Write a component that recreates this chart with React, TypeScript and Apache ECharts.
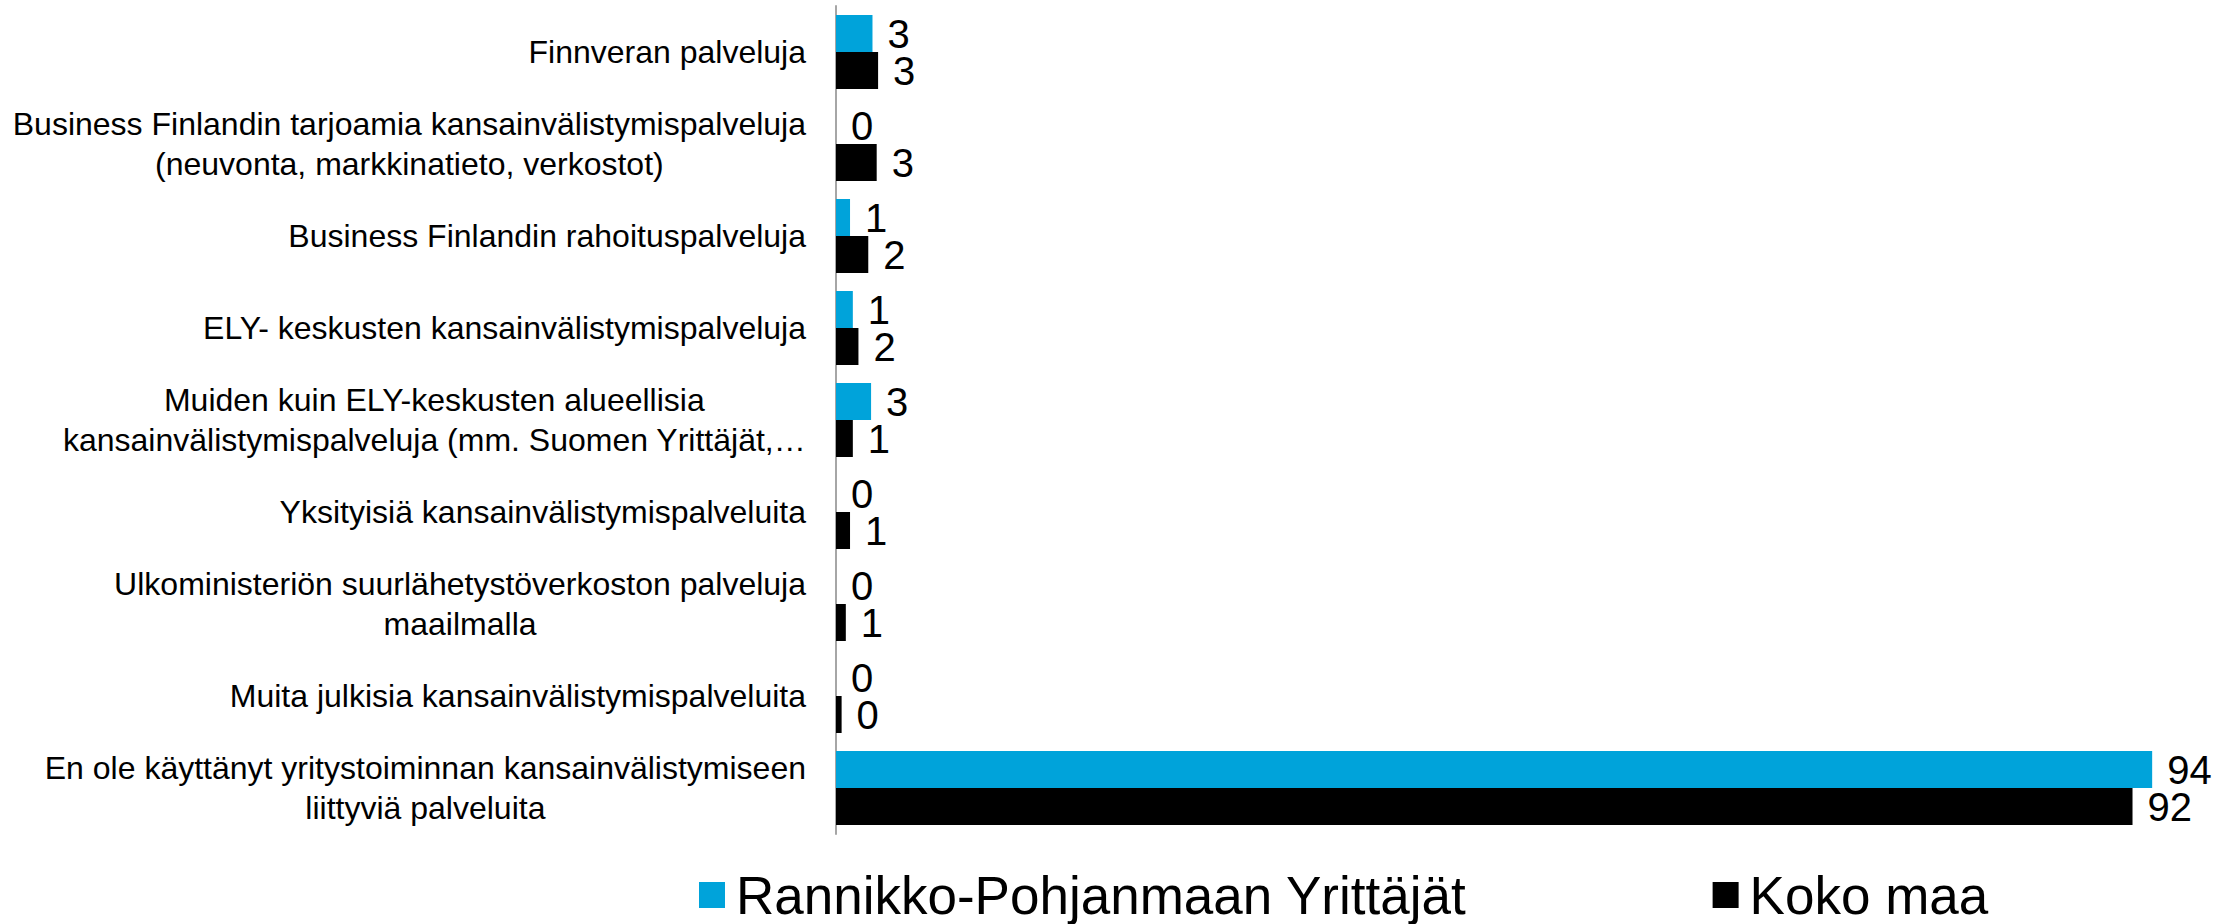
import React, { useEffect, useRef } from "react";
import * as echarts from "echarts";

const categories: string[] = [
  "Finnveran palveluja",
  "Business Finlandin tarjoamia kansainvälistymispalveluja\n(neuvonta, markkinatieto, verkostot)",
  "Business Finlandin rahoituspalveluja",
  "ELY- keskusten kansainvälistymispalveluja",
  "Muiden kuin ELY-keskusten alueellisia\nkansainvälistymispalveluja (mm. Suomen Yrittäjät,…",
  "Yksityisiä kansainvälistymispalveluita",
  "Ulkoministeriön suurlähetystöverkoston palveluja\nmaailmalla",
  "Muita julkisia kansainvälistymispalveluita",
  "En ole käyttänyt yritystoiminnan kansainvälistymiseen\nliittyviä palveluita",
];

const seriesNames: string[] = ["Rannikko-Pohjanmaan Yrittäjät", "Koko maa"];
const regionValues: number[] = [2.6, 0, 1.0, 1.2, 2.5, 0, 0, 0, 93.8];
const countryValues: number[] = [3.0, 2.9, 2.3, 1.6, 1.2, 1.0, 0.7, 0.4, 92.4];

const FONT = "'Liberation Sans', Arial, Helvetica, sans-serif";

export default function App() {
  const ref = useRef<HTMLDivElement>(null);
  useEffect(() => {
    if (!ref.current) return;
    const chart = echarts.init(ref.current, undefined, { renderer: "svg" });
    const labelCfg = {
      show: true,
      position: "right",
      distance: 15,
      fontSize: 40,
      color: "#000",
      fontFamily: FONT,
      formatter: (p: any) => String(Math.round(p.value)),
    };
    chart.setOption({
      animation: false,
      backgroundColor: "#fff",
      grid: { left: 836, top: 6, width: 1333, height: 828 },
      legend: {
        data: seriesNames,
        left: 694,
        top: 862,
        icon: "rect",
        itemWidth: 26,
        itemHeight: 26,
        itemGap: 246,
        textStyle: {
          fontSize: 53,
          fontFamily: FONT,
          color: "#000",
          lineHeight: 56,
          padding: [0, 0, 0, 6],
        },
      },
      xAxis: {
        type: "value",
        min: 0,
        max: 95,
        show: false,
        splitLine: { show: false },
      },
      yAxis: {
        type: "category",
        inverse: true,
        data: categories,
        axisLine: { show: true, lineStyle: { color: "#A6A6A6", width: 2 } },
        axisTick: { show: false },
        axisLabel: {
          margin: 30,
          fontSize: 32,
          fontFamily: FONT,
          color: "#000",
          lineHeight: 40,
          formatter: (v: string) =>
            v
              .split("\n")
              .map((l) => `{c|${l}}`)
              .join("\n"),
          rich: {
            c: {
              align: "center",
              fontSize: 32,
              fontFamily: FONT,
              color: "#000",
              lineHeight: 40,
            },
          },
        },
      },
      series: [
        {
          name: seriesNames[0],
          type: "bar",
          data: regionValues,
          barWidth: 37,
          barGap: "0%",
          itemStyle: { color: "#00A3DA" },
          label: labelCfg,
        },
        {
          name: seriesNames[1],
          type: "bar",
          data: countryValues,
          barWidth: 37,
          barGap: "0%",
          itemStyle: { color: "#000000" },
          label: labelCfg,
        },
      ],
    });
    return () => chart.dispose();
  }, []);
  return (
    <div
      ref={ref}
      style={{ position: "fixed", left: 0, top: 0, width: 2229, height: 924 }}
    />
  );
}
